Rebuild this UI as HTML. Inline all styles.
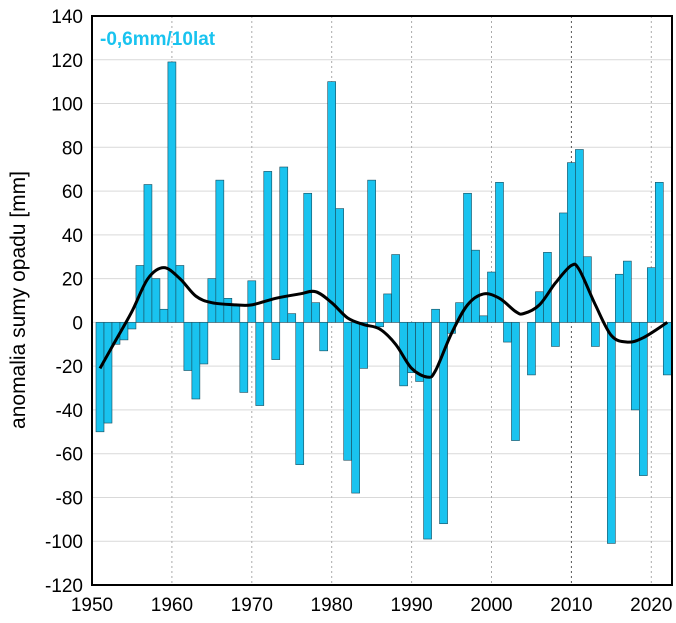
<!DOCTYPE html>
<html><head><meta charset="utf-8"><style>
html,body{margin:0;padding:0;background:#fff;}
svg{display:block;font-family:"Liberation Sans",Arial,sans-serif;}
</style></head><body>
<svg id="c" width="676" height="623" xmlns="http://www.w3.org/2000/svg"></svg>
<script>
const s=document.getElementById('c');
const L=92,R=672,T=16,B=585;
const X=y=>L+(y-1950)*7.99;
const Y=v=>T+(140-v)*(B-T)/260;
let h='';
for(let v=-120;v<=140;v+=20){
 if(v>-120&&v<140)h+=`<line x1="${L}" x2="${R}" y1="${Y(v)}" y2="${Y(v)}" stroke="#d9d9d9" stroke-width="1"/>`;
 h+=`<text x="${L-9}" y="${Y(v)+7}" font-size="19" text-anchor="end" fill="#000">${v}</text>`;
}
for(let yr=1950;yr<=2020;yr+=10){
 if(yr>1950)h+=`<line x1="${X(yr)}" x2="${X(yr)}" y1="${T}" y2="${B}" stroke="${yr==2010?'#555':'#aaa'}" stroke-width="1" stroke-dasharray="2,3"/>`;
 h+=`<text x="${X(yr)}" y="${B+26}" font-size="19" text-anchor="middle" fill="#000">${yr}</text>`;
}
const d=[-50,-46,-10,-8,-3,26,63,20,6,119,26,-22,-35,-19,20,65,11,8,-32,19,-38,69,-17,71,4,-65,59,9,-13,110,52,-63,-78,-21,65,-2,13,31,-29,-23,-27,-99,6,-92,-5,9,59,33,3,23,64,-9,-54,0,-24,14,32,-11,50,73,79,30,-11,0,-101,22,28,-40,-70,25,64,-24];
d.forEach((v,i)=>{const yr=1951+i;const x=X(yr)-4;const y0=Y(0),y1=Y(v);
 h+=`<rect x="${x}" y="${Math.min(y0,y1)}" width="8" height="${Math.abs(y1-y0)}" fill="#19c3ef" stroke="#1a4a5a" stroke-width="0.6"/>`;});
const p=[[1951,-21],[1953,-8],[1955,5],[1957,20],[1959,25],[1961,20],[1963,12],[1965,9],[1968,8],[1970,8],[1973,11],[1976,13],[1978,14],[1980,9],[1982,2],[1984,-1],[1986,-3],[1988,-10],[1990,-21],[1992,-25],[1993,-22],[1995,-5],[1997,8],[1999,13],[2001,11],[2003,5],[2004,4],[2006,8],[2008,18],[2010,26],[2011,24],[2013,8],[2015,-6],[2017,-9],[2019,-7],[2022,0]].map(q=>[X(q[0]),Y(q[1])]);
let path=`M${p[0][0]},${p[0][1]}`;
for(let i=0;i<p.length-1;i++){const a=p[Math.max(0,i-1)],b=p[i],c=p[i+1],e=p[Math.min(p.length-1,i+2)];
 path+=` C${b[0]+(c[0]-a[0])/6},${b[1]+(c[1]-a[1])/6} ${c[0]-(e[0]-b[0])/6},${c[1]-(e[1]-b[1])/6} ${c[0]},${c[1]}`;}
h+=`<path d="${path}" fill="none" stroke="#000" stroke-width="3"/>`;
h+=`<rect x="${L}" y="${T}" width="${R-L}" height="${B-T}" fill="none" stroke="#000" stroke-width="2"/>`;
h+=`<text x="100" y="45" font-size="19" font-weight="bold" fill="#19c3ef">-0,6mm/10lat</text>`;
h+=`<text transform="translate(25,300) rotate(-90)" font-size="21" text-anchor="middle" fill="#000">anomalia sumy opadu [mm]</text>`;
s.innerHTML=h;
</script>
</body></html>
